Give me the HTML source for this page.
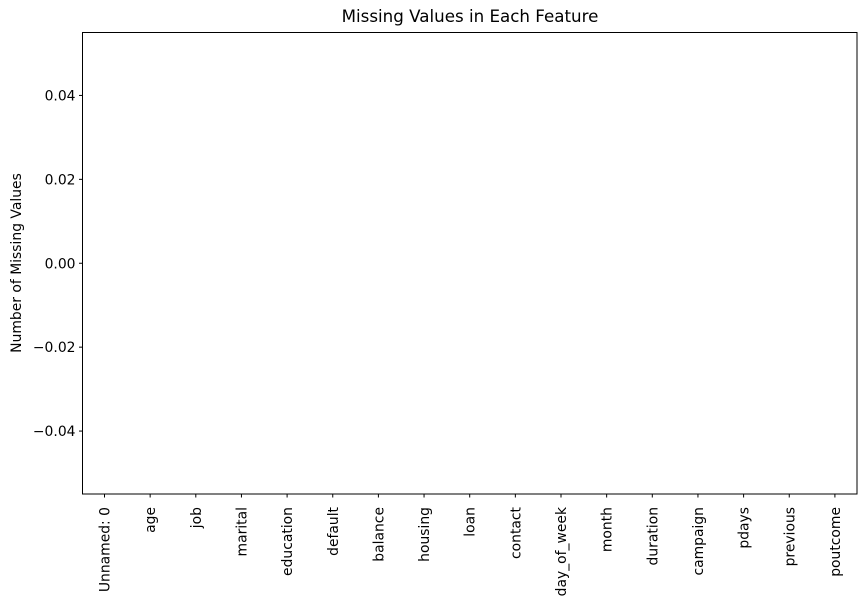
<!DOCTYPE html>
<html><head><meta charset="utf-8"><style>
body{margin:0;background:#fff;}
svg{display:block;font-family:"DejaVu Sans","Liberation Sans",sans-serif;}
</style></head><body>
<svg id="chart" width="866" height="603" viewBox="0 0 866 603">
<text x="470" y="22" text-anchor="middle" font-size="16.7">Missing Values in Each Feature</text>
<text transform="translate(21,263) rotate(-90)" text-anchor="middle" font-size="13.9">Number of Missing Values</text>
<g id="plot"></g>
</svg>
<script>
const categories=["Unnamed: 0","age","job","marital","education","default","balance","housing","loan","contact","day_of_week","month","duration","campaign","pdays","previous","poutcome"];
const values=[0,0,0,0,0,0,0,0,0,0,0,0,0,0,0,0,0];
const yTicks=[0.04,0.02,0.00,-0.02,-0.04];
const yTickLabels=["0.04","0.02","0.00","\u22120.02","\u22120.04"];
const L=82.5,R=857,T=32.5,B=494;
const yMin=-0.055,yMax=0.055;
function y(v){return B-(v-yMin)/(yMax-yMin)*(B-T);}
function x(i){return 104.5+i*45.65;}
const ns="http://www.w3.org/2000/svg";
const g=document.getElementById('plot');
function mk(t,a){const e=document.createElementNS(ns,t);for(const k in a)e.setAttribute(k,a[k]);g.appendChild(e);return e;}
values.forEach((v,i)=>{
  const y0=y(0),y1=y(v);
  const r=mk('rect',{x:x(i)-18.3,y:Math.min(y0,y1),width:36.5,height:Math.abs(y1-y0),fill:'#1f77b4'});
  
  
});
const frame=mk('rect',{x:L,y:T,width:R-L,height:B-T,fill:'none',stroke:'#000','stroke-width':1});


yTicks.forEach((t,i)=>{
  const yy=y(t);
  mk('line',{x1:L-3.5,x2:L,y1:yy,y2:yy,stroke:'#000'});
  const tx=mk('text',{x:L-7,y:yy+5,'text-anchor':'end','font-size':13.9});
  tx.textContent=yTickLabels[i];
  
  
});
categories.forEach((c,i)=>{
  const xx=x(i);
  mk('line',{x1:xx,x2:xx,y1:B,y2:B+3.5,stroke:'#000'});
  const tx=mk('text',{transform:`translate(${xx+5},${B+13}) rotate(-90)`,'text-anchor':'end','font-size':13.9});
  tx.textContent=c;
  
  
});
</script>
</body></html>
